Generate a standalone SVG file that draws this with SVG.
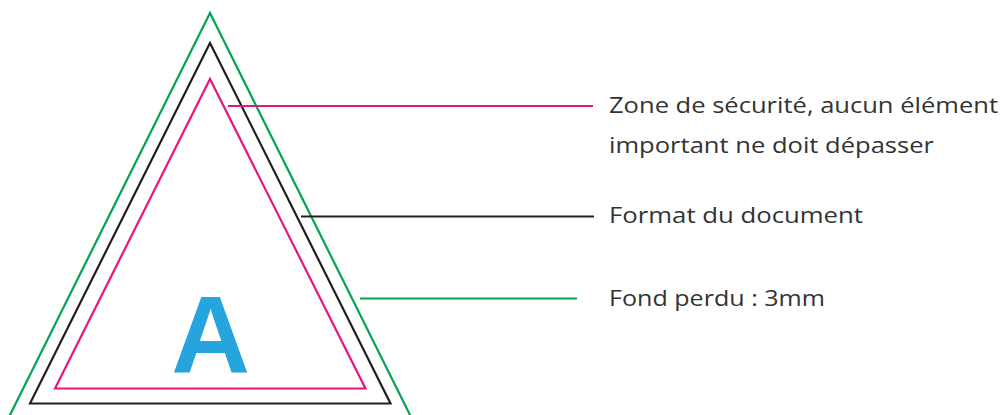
<svg xmlns="http://www.w3.org/2000/svg" width="1003" height="415" viewBox="0 0 1003 415">
<style>
.lbl{font-family:"Open Sans","Liberation Sans",sans-serif;font-size:22px;fill:#333333}
.tri{fill:none;stroke-width:2.2}
.conn{stroke-width:2}
</style>
<rect width="1003" height="415" fill="#ffffff"/>
<g id="bleed"><path class="tri" stroke="#00A650" d="M4,427 L210,13 L416,427"/></g>
<g id="format"><path class="tri" stroke="#231F20" d="M30,403.5 L210,43 L390.5,403.5 Z"/></g>
<g id="safe"><path class="tri" stroke="#E5177E" d="M55,388.5 L210,79 L365.5,388.5 Z"/></g>
<g id="letter"><text x="210.5" y="372" text-anchor="middle" font-family="'Liberation Sans',Arial,sans-serif" font-weight="bold" font-size="109" fill="#25A4DE">A</text></g>
<g id="connectors">
<line class="conn" stroke="#E5177E" x1="228" y1="106" x2="593" y2="106"/>
<line class="conn" stroke="#231F20" x1="301" y1="216.5" x2="594" y2="216.5"/>
<line class="conn" stroke="#00A650" x1="360" y1="298.5" x2="577" y2="298.5"/>
</g>
<g id="labels">
<text class="lbl" x="609" y="113" textLength="389" lengthAdjust="spacingAndGlyphs">Zone de sécurité, aucun élément</text>
<text class="lbl" x="609" y="153" textLength="325" lengthAdjust="spacingAndGlyphs">important ne doit dépasser</text>
<text class="lbl" x="609" y="223" textLength="254" lengthAdjust="spacingAndGlyphs">Format du document</text>
<text class="lbl" x="609" y="306" textLength="216" lengthAdjust="spacingAndGlyphs">Fond perdu : 3mm</text>
</g>
</svg>
